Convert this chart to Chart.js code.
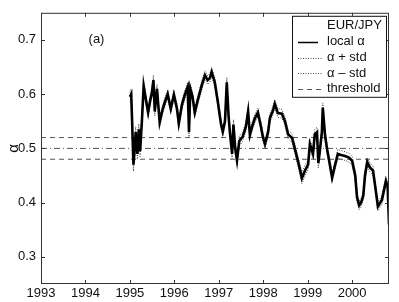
<!DOCTYPE html>
<html>
<head>
<meta charset="utf-8">
<script src="https://cdn.jsdelivr.net/npm/chart.js@4.4.1/dist/chart.umd.min.js"></script>
<style>
  html, body { margin: 0; padding: 0; background: #fff; }
  canvas { display: block; }
</style>
</head>
<body>
<canvas id="alphaChart" width="399" height="302"></canvas>
<script>
// EUR/JPY local alpha
const years = [
  1995.00, 1995.03, 1995.05, 1995.08, 1995.11, 1995.13, 1995.17, 1995.20, 1995.23, 1995.27,
  1995.31, 1995.36, 1995.41, 1995.46, 1995.49, 1995.53, 1995.56, 1995.61, 1995.67, 1995.73,
  1995.79, 1995.85, 1995.92, 1995.99, 1996.06, 1996.10, 1996.17, 1996.24, 1996.30, 1996.33,
  1996.36, 1996.41, 1996.46, 1996.53, 1996.62, 1996.69, 1996.75, 1996.80, 1996.84, 1996.91,
  1996.98, 1997.05, 1997.09, 1997.14, 1997.18, 1997.22, 1997.25, 1997.30, 1997.33, 1997.37,
  1997.41, 1997.46, 1997.54, 1997.61, 1997.66, 1997.70, 1997.75, 1997.81, 1997.88, 1997.95,
  1997.99, 1998.04, 1998.11, 1998.15, 1998.22, 1998.26, 1998.33, 1998.42, 1998.49, 1998.56,
  1998.65, 1998.71, 1998.78, 1998.83, 1998.87, 1998.94, 1999.01, 1999.05, 1999.12, 1999.16,
  1999.21, 1999.24, 1999.28, 1999.32, 1999.34, 1999.39, 1999.44, 1999.50, 1999.55, 1999.61,
  1999.68, 1999.75, 1999.84, 1999.93, 2000.00, 2000.07, 2000.11, 2000.16, 2000.20, 2000.25,
  2000.29, 2000.34, 2000.40, 2000.47, 2000.52, 2000.58, 2000.67, 2000.76, 2000.80, 2000.83
];
const alpha = [
  0.595, 0.600, 0.550, 0.470, 0.500, 0.530, 0.490, 0.535, 0.495, 0.550,
  0.615, 0.590, 0.566, 0.590, 0.600, 0.626, 0.568, 0.610, 0.548, 0.570,
  0.586, 0.600, 0.573, 0.599, 0.573, 0.546, 0.580, 0.600, 0.613, 0.530,
  0.610, 0.595, 0.566, 0.590, 0.617, 0.635, 0.626, 0.630, 0.641, 0.622,
  0.585, 0.545, 0.531, 0.550, 0.622, 0.560, 0.530, 0.490, 0.544, 0.500,
  0.478, 0.513, 0.522, 0.540, 0.568, 0.525, 0.540, 0.555, 0.566, 0.540,
  0.522, 0.508, 0.530, 0.556, 0.570, 0.582, 0.565, 0.564, 0.550, 0.526,
  0.519, 0.500, 0.477, 0.460, 0.445, 0.459, 0.470, 0.508, 0.490, 0.526,
  0.530, 0.473, 0.500, 0.530, 0.575, 0.525, 0.497, 0.470, 0.446, 0.467,
  0.490, 0.488, 0.486, 0.483, 0.477, 0.450, 0.410, 0.395, 0.400, 0.412,
  0.450, 0.475, 0.465, 0.459, 0.430, 0.393, 0.405, 0.440, 0.430, 0.360
];
const alphaStd = [
  0.008, 0.010, 0.012, 0.012, 0.010, 0.010, 0.010, 0.010, 0.010, 0.010,
  0.009, 0.008, 0.008, 0.008, 0.008, 0.009, 0.008, 0.008, 0.008, 0.008,
  0.008, 0.008, 0.007, 0.008, 0.008, 0.008, 0.008, 0.008, 0.009, 0.009,
  0.008, 0.008, 0.008, 0.008, 0.008, 0.008, 0.008, 0.008, 0.008, 0.008,
  0.008, 0.008, 0.008, 0.008, 0.009, 0.009, 0.009, 0.009, 0.009, 0.009,
  0.009, 0.009, 0.008, 0.008, 0.008, 0.008, 0.008, 0.008, 0.008, 0.008,
  0.008, 0.008, 0.008, 0.008, 0.008, 0.008, 0.008, 0.008, 0.008, 0.008,
  0.008, 0.009, 0.009, 0.010, 0.010, 0.010, 0.009, 0.009, 0.009, 0.009,
  0.009, 0.009, 0.009, 0.009, 0.009, 0.009, 0.008, 0.008, 0.008, 0.008,
  0.008, 0.008, 0.008, 0.008, 0.008, 0.008, 0.008, 0.008, 0.008, 0.008,
  0.008, 0.008, 0.008, 0.008, 0.008, 0.008, 0.008, 0.008, 0.008, 0.010
];
const thresholds = [0.52, 0.5, 0.48];
const xTicks = [1993, 1994, 1995, 1996, 1997, 1998, 1999, 2000];
const yTicks = [0.3, 0.4, 0.5, 0.6, 0.7];
const xRange = [1993, 2000.83];
const yRange = [0.25, 0.75];
const pairName = 'EUR/JPY';
const panelTag = '(a)';

const FONT = '"Liberation Sans", Arial, sans-serif';
Chart.defaults.font.family = FONT;
Chart.defaults.font.size = 13;
Chart.defaults.color = '#111';

const toPoints = vals => vals.map((v, i) => ({ x: years[i], y: v }));
const upper = alpha.map((v, i) => v + alphaStd[i]);
const lower = alpha.map((v, i) => v - alphaStd[i]);
const flatLine = v => xRange.map(t => ({ x: t, y: v }));

// frame with inward ticks, panel tag and the boxed legend
const frameAndLegend = {
    id: 'frameAndLegend',
    afterDatasetsDraw(chart) {
        const { ctx, chartArea: a, scales: { x, y } } = chart;
        ctx.save();
        ctx.strokeStyle = '#333';
        ctx.lineWidth = 1;
        ctx.setLineDash([]);
        ctx.beginPath();
        xTicks.forEach(t => {
            const px = Math.round(x.getPixelForValue(t)) + 0.5;
            ctx.moveTo(px, a.bottom); ctx.lineTo(px, a.bottom - 4);
            ctx.moveTo(px, a.top); ctx.lineTo(px, a.top + 4);
        });
        yTicks.forEach(v => {
            const py = Math.round(y.getPixelForValue(v)) + 0.5;
            ctx.moveTo(a.left, py); ctx.lineTo(a.left + 4, py);
            ctx.moveTo(a.right, py); ctx.lineTo(a.right - 4, py);
        });
        ctx.stroke();
        ctx.strokeRect(a.left + 0.5, a.top + 0.5, a.right - a.left - 1, a.bottom - a.top - 1);

        ctx.fillStyle = '#111';
        ctx.font = '13px ' + FONT;
        ctx.textBaseline = 'middle';
        ctx.textAlign = 'left';
        ctx.fillText(panelTag, x.getPixelForValue(1994.07), y.getPixelForValue(0.70));

        // legend box
        const bw = 94, bh = 81;
        const bx = a.right - 3 - bw, by = a.top + 3;
        ctx.fillStyle = '#fff';
        ctx.fillRect(bx, by, bw, bh);
        ctx.strokeStyle = '#111';
        ctx.strokeRect(bx + 0.5, by + 0.5, bw, bh);
        const textX = bx + 35;
        ctx.fillStyle = '#111';
        ctx.fillText(pairName, textX, by + 10);
        const items = chart.data.datasets.filter(d => d.inLegend);
        items.forEach((d, i) => {
            const ly = by + 26 + i * 15.7;
            ctx.save();
            ctx.strokeStyle = d.borderColor;
            ctx.lineWidth = d.legendWidth || d.borderWidth;
            ctx.setLineDash(d.borderDash || []);
            ctx.beginPath();
            ctx.moveTo(bx + 6, Math.round(ly) + 0.5);
            ctx.lineTo(bx + (d.borderDash ? 30 : 26), Math.round(ly) + 0.5);
            ctx.stroke();
            ctx.restore();
            ctx.fillText(d.label, textX, ly);
        });
        ctx.restore();
    }
};

new Chart(document.getElementById('alphaChart'), {
    type: 'line',
    data: {
        datasets: [
            { label: 'local α', data: toPoints(alpha), borderColor: '#000', borderWidth: 2.6, legendWidth: 1.5, order: 0, inLegend: true },
            { label: 'α + std', data: toPoints(upper), borderColor: '#444', borderWidth: 1, borderDash: [1, 1.5], order: 1, inLegend: true },
            { label: 'α – std', data: toPoints(lower), borderColor: '#444', borderWidth: 1, borderDash: [1, 1.5], order: 1, inLegend: true },
            { label: 'threshold', data: flatLine(thresholds[0]), borderColor: '#555', borderWidth: 1, borderDash: [5, 4], order: 2, inLegend: true },
            { label: 'threshold', data: flatLine(thresholds[1]), borderColor: '#555', borderWidth: 1, borderDash: [6, 3, 1, 3], order: 2 },
            { label: 'threshold', data: flatLine(thresholds[2]), borderColor: '#555', borderWidth: 1, borderDash: [5, 4], order: 2 }
        ]
    },
    options: {
        responsive: false,
        animation: false,
        elements: { point: { radius: 0 }, line: { tension: 0 } },
        layout: { padding: { top: 9, right: 10, left: 0, bottom: 0 } },
        plugins: { legend: { display: false }, tooltip: { enabled: false } },
        scales: {
            x: {
                type: 'linear',
                min: xRange[0],
                max: xRange[1],
                grid: { display: false, drawTicks: false },
                border: { display: false },
                ticks: { padding: 2, maxRotation: 0, callback: v => String(v) },
                afterBuildTicks: s => { s.ticks = xTicks.map(v => ({ value: v })); },
                afterFit: s => { s.height = 18; }
            },
            y: {
                min: yRange[0],
                max: yRange[1],
                grid: { display: false, drawTicks: false },
                border: { display: false },
                ticks: { padding: 5, callback: v => v.toFixed(1) },
                afterBuildTicks: s => { s.ticks = yTicks.map(v => ({ value: v })); },
                title: { display: true, text: 'α', font: { size: 15 }, padding: { top: 5, bottom: 0 } },
                afterFit: s => { s.width = 41; }
            }
        }
    },
    plugins: [frameAndLegend]
});
</script>
</body>
</html>
